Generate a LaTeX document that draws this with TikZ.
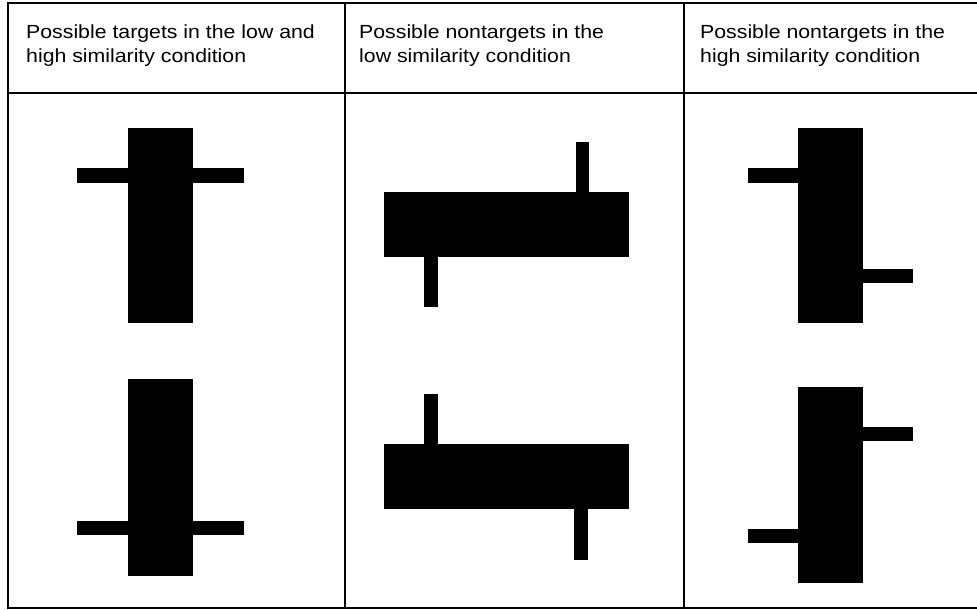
\documentclass[tikz,border=0pt]{standalone}
\usepackage{fontspec}
\usepackage{tikz}
\usetikzlibrary{positioning}
\newfontfamily\headfont[FakeStretch=1.12]{Liberation Sans}
\definecolor{ink}{HTML}{000000}

\tikzset{
  grid/.style={line width=2pt,ink},
  head/.style={anchor=north west,inner sep=0pt,align=left,
    font=\headfont\fontsize{19}{24}\selectfont},
  bar/.style={fill=ink}
}

\begin{document}
\begin{tikzpicture}[x=1pt,y=-1pt]
  \useasboundingbox (0,0) rectangle (977,610);
  % table frame
  \draw[grid] (990,3)--(8,3)--(8,608)--(990,608);
  \draw[grid] (8,93)--(990,93);
  \draw[grid] (345,3)--(345,608); \draw[grid] (684,3)--(684,608);
  % headers
  \node[head] (hTarget) at (26,25) {Possible targets in the low and\\high similarity condition};
  \node[head] (hLow) at (359,25) {Possible nontargets in the\\low similarity condition};
  \node[head] (hHigh) at (700,25) {Possible nontargets in the\\high similarity condition};
  % targets
  \fill[bar] (128,128) rectangle (193,323); \fill[bar] (77,168) rectangle (244,183);
  \fill[bar] (128,379) rectangle (193,576); \fill[bar] (77,521) rectangle (244,535);
  % low similarity nontargets
  \fill[bar] (384,192) rectangle (629,257);
  \fill[bar] (576,142) rectangle (589,192); \fill[bar] (424,257) rectangle (438,307);
  \fill[bar] (384,444) rectangle (629,509);
  \fill[bar] (424,394) rectangle (438,444); \fill[bar] (574,509) rectangle (588,560);
  % high similarity nontargets
  \fill[bar] (798,128) rectangle (863,323);
  \fill[bar] (748,168) rectangle (798,183); \fill[bar] (863,269) rectangle (913,283);
  \fill[bar] (798,387) rectangle (863,583);
  \fill[bar] (863,427) rectangle (913,441); \fill[bar] (748,529) rectangle (798,543);
\end{tikzpicture}
\end{document}
